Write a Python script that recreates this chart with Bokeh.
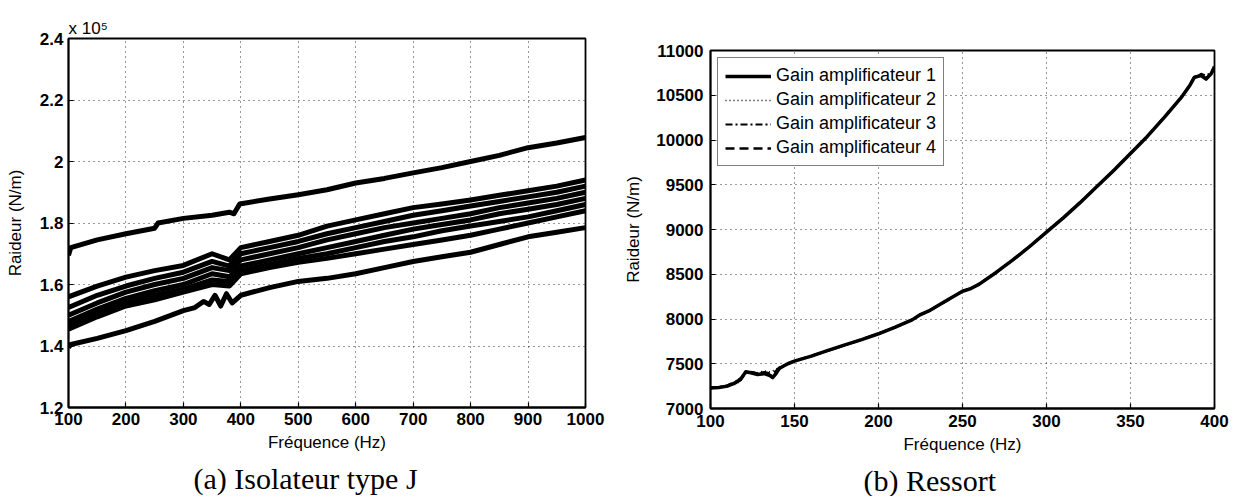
from bokeh.plotting import figure
from bokeh.models import FixedTicker, Range1d, Title, Legend, LegendItem, Spacer
from bokeh.layouts import row, column
from bokeh.embed import file_html
from bokeh.resources import INLINE

FONT = "Liberation Sans"
SERIF = "Liberation Serif"

# ---------------- Panel (a): Isolateur type J (stiffness in 1e5 N/m) ----------------
xticks_a = [100, 200, 300, 400, 500, 600, 700, 800, 900, 1000]
yticks_a = [1.2, 1.4, 1.6, 1.8, 2, 2.2, 2.4]

freq_top = [100, 104, 150, 200, 250, 256, 300, 350, 380, 388, 398, 450, 500, 550,
            600, 650, 700, 750, 800, 850, 900, 950, 1000]
j_top = [1.695, 1.72, 1.745, 1.765, 1.783, 1.80, 1.815, 1.825, 1.835, 1.83, 1.862, 1.878,
         1.892, 1.908, 1.93, 1.945, 1.963, 1.98, 2.0, 2.02, 2.045, 2.06, 2.078]

freq_mid = [100, 150, 200, 250, 300, 350, 380, 400, 450, 500, 550, 600, 650, 700,
            750, 800, 850, 900, 950, 1000]
j_b1 = [1.56, 1.595, 1.624, 1.645, 1.662, 1.70, 1.68, 1.72, 1.74, 1.76, 1.79, 1.81, 1.83,
        1.85, 1.862, 1.875, 1.89, 1.905, 1.92, 1.94]
j_b2 = [1.525, 1.565, 1.595, 1.62, 1.64, 1.675, 1.66, 1.70, 1.72, 1.74, 1.765, 1.785, 1.805,
        1.825, 1.84, 1.855, 1.87, 1.885, 1.90, 1.92]
j_b3 = [1.50, 1.54, 1.575, 1.60, 1.62, 1.655, 1.645, 1.68, 1.70, 1.72, 1.745, 1.765, 1.785,
        1.80, 1.815, 1.83, 1.85, 1.865, 1.88, 1.90]
j_b4 = [1.48, 1.52, 1.555, 1.58, 1.60, 1.635, 1.625, 1.66, 1.68, 1.70, 1.72, 1.74, 1.76,
        1.78, 1.795, 1.81, 1.83, 1.845, 1.86, 1.88]
j_b5 = [1.465, 1.505, 1.54, 1.565, 1.585, 1.615, 1.61, 1.645, 1.665, 1.685, 1.70, 1.72, 1.74,
        1.755, 1.775, 1.79, 1.805, 1.82, 1.84, 1.86]
j_b6 = [1.455, 1.495, 1.53, 1.55, 1.575, 1.60, 1.595, 1.635, 1.655, 1.672, 1.685, 1.70, 1.715,
        1.73, 1.745, 1.76, 1.78, 1.80, 1.82, 1.84]

freq_low = [100, 104, 150, 200, 250, 300, 320, 335, 345, 355, 365, 375, 385, 400, 450, 500,
            550, 600, 650, 700, 750, 800, 850, 900, 950, 1000]
j_low = [1.395, 1.405, 1.425, 1.45, 1.48, 1.515, 1.525, 1.545, 1.535, 1.565, 1.53, 1.57, 1.54,
         1.565, 1.59, 1.61, 1.62, 1.635, 1.655, 1.675, 1.69, 1.705, 1.73, 1.755, 1.77, 1.785]

# ---------------- Panel (b): Ressort ----------------
xticks_b = [100, 150, 200, 250, 300, 350, 400]
yticks_b = [7000, 7500, 8000, 8500, 9000, 9500, 10000, 10500, 11000]
gain_labels = ["Gain amplificateur 1", "Gain amplificateur 2",
               "Gain amplificateur 3", "Gain amplificateur 4"]

freq_b = [100, 105, 110, 115, 118, 121, 124, 128, 132, 135, 137, 139, 141, 143, 146, 150,
          160, 170, 180, 190, 200, 210, 220, 225, 230, 240, 250, 255, 260, 270, 280, 290,
          300, 310, 320, 330, 340, 350, 360, 370, 380, 385, 388, 392, 395, 398, 400]
gain1 = [7230, 7235, 7250, 7290, 7330, 7410, 7400, 7380, 7390, 7370, 7345, 7390, 7450, 7470,
         7500, 7530, 7585, 7650, 7710, 7770, 7835, 7910, 7990, 8050, 8090, 8200, 8310, 8340,
         8390, 8520, 8660, 8810, 8970, 9130, 9300, 9480, 9660, 9850, 10040, 10250, 10470,
         10600, 10700, 10720, 10680, 10740, 10820]
gain2 = [7225, 7235, 7255, 7270, 7310, 7390, 7395, 7400, 7420, 7410, 7420, 7440, 7460, 7480,
         7505, 7535, 7590, 7650, 7710, 7775, 7840, 7910, 7995, 8045, 8095, 8200, 8315, 8345,
         8395, 8520, 8665, 8815, 8975, 9135, 9305, 9480, 9665, 9855, 10045, 10255, 10475,
         10610, 10710, 10730, 10700, 10730, 10800]
gain3 = [7235, 7240, 7260, 7300, 7340, 7400, 7410, 7395, 7400, 7385, 7360, 7400, 7440, 7465,
         7495, 7530, 7585, 7645, 7705, 7770, 7835, 7905, 7990, 8055, 8090, 8195, 8310, 8340,
         8390, 8515, 8660, 8810, 8970, 9130, 9300, 9475, 9660, 9850, 10040, 10250, 10465,
         10600, 10690, 10740, 10720, 10750, 10780]
gain4 = [7230, 7238, 7252, 7285, 7320, 7405, 7405, 7390, 7405, 7395, 7390, 7420, 7455, 7470,
         7500, 7532, 7588, 7648, 7708, 7772, 7838, 7908, 7992, 8050, 8092, 8198, 8312, 8342,
         8392, 8518, 8662, 8812, 8972, 9132, 9302, 9478, 9662, 9852, 10042, 10252, 10470,
         10605, 10705, 10725, 10690, 10745, 10810]


def style(p, xt, yt, overrides=None):
    for ax in (p.xaxis[0], p.yaxis[0]):
        ax.axis_line_color = "black"
        ax.axis_line_width = 1.8
        ax.major_tick_line_color = "black"
        ax.major_tick_line_width = 1.2
        ax.major_tick_in = 5
        ax.major_tick_out = 0
        ax.minor_tick_line_color = None
        ax.major_label_text_font = FONT
        ax.major_label_text_font_size = "17px"
        ax.major_label_text_font_style = "bold"
        ax.major_label_text_color = "black"
        ax.axis_label_text_font = FONT
        ax.axis_label_text_font_size = "17px"
        ax.axis_label_text_font_style = "normal"
        ax.axis_label_text_color = "black"
    p.xaxis[0].ticker = FixedTicker(ticks=xt)
    p.yaxis[0].ticker = FixedTicker(ticks=yt)
    if overrides:
        p.yaxis[0].major_label_overrides = overrides
    p.xgrid.ticker = FixedTicker(ticks=xt)
    p.ygrid.ticker = FixedTicker(ticks=yt)
    for g in (p.xgrid[0], p.ygrid[0]):
        g.grid_line_color = "black"
        g.grid_line_alpha = 0.8
        g.grid_line_dash = "1 4"
        g.grid_line_width = 1
    p.outline_line_color = "black"
    p.outline_line_width = 1.8
    p.background_fill_color = "white"
    p.border_fill_color = "white"


# ---- figure (a)
pa = figure(frame_width=517, frame_height=369, min_border_left=68, min_border_right=35,
            min_border_top=38, min_border_bottom=89,
            x_range=Range1d(100, 1000), y_range=Range1d(1.2, 2.4),
            output_backend="svg", toolbar_location=None)
pa.title.text = "x 10\u2075"
pa.title.text_font = FONT
pa.title.text_font_size = "17px"
pa.title.text_font_style = "normal"
pa.title.text_color = "black"
pa.title.align = "left"
pa.title.standoff = 2
for fx, fy in ((freq_top, j_top), (freq_mid, j_b1), (freq_mid, j_b2), (freq_mid, j_b3),
               (freq_mid, j_b4), (freq_mid, j_b5), (freq_mid, j_b6), (freq_low, j_low)):
    pa.line(fx, fy, line_color="black", line_width=5, line_join="round")
pa.xaxis.axis_label = "Fréquence (Hz)"
pa.yaxis.axis_label = "Raideur (N/m)"
style(pa, xticks_a, yticks_a, overrides={2: "2"})
pa.yaxis[0].major_label_standoff = 5
pa.yaxis[0].axis_label_standoff = 12
pa.xaxis[0].major_label_standoff = 5
pa.xaxis[0].axis_label_standoff = 5
pa.add_layout(Title(text="(a) Isolateur type J", text_font=SERIF, text_font_size="30px",
                    text_font_style="normal", text_color="black",
                    align="left", offset=125), "below")

# ---- figure (b)
pb = figure(frame_width=504, frame_height=358, min_border_left=90, min_border_right=24,
            min_border_top=38, min_border_bottom=88,
            x_range=Range1d(100, 400), y_range=Range1d(7000, 11000),
            output_backend="svg", toolbar_location=None)
dashes = ["solid", "1 3", "7 3 2 3", "9 5"]
widths = [3.5, 1.5, 2, 2.5]
items = []
for lab, ys, d, w in zip(gain_labels, (gain1, gain2, gain3, gain4), dashes, widths):
    r = pb.line(freq_b, ys, line_color="black", line_width=w, line_dash=d, line_join="round")
    items.append(LegendItem(label=lab, renderers=[r]))
pb.xaxis.axis_label = "Fréquence (Hz)"
pb.yaxis.axis_label = "Raideur (N/m)"
style(pb, xticks_b, yticks_b)
pb.yaxis[0].major_label_standoff = 7
pb.yaxis[0].axis_label_standoff = 10
pb.xaxis[0].major_label_standoff = 6
pb.xaxis[0].axis_label_standoff = 5
leg = Legend(items=items, location="top_left", margin=7, padding=7, spacing=3,
             glyph_width=46, glyph_height=20, label_standoff=5, label_height=20,
             label_text_font=FONT, label_text_font_size="18px", label_text_color="black",
             border_line_color="black", border_line_width=1.5,
             background_fill_color="white", background_fill_alpha=1)
pb.add_layout(leg, "center")
pb.add_layout(Title(text="(b) Ressort", text_font=SERIF, text_font_size="30px",
                    text_font_style="normal", text_color="black",
                    align="left", offset=153), "below")

right = column(Spacer(width=618, height=12), pb, spacing=0)
layout = row(pa, right, spacing=0)
open("out.html", "w").write(file_html(layout, INLINE))
